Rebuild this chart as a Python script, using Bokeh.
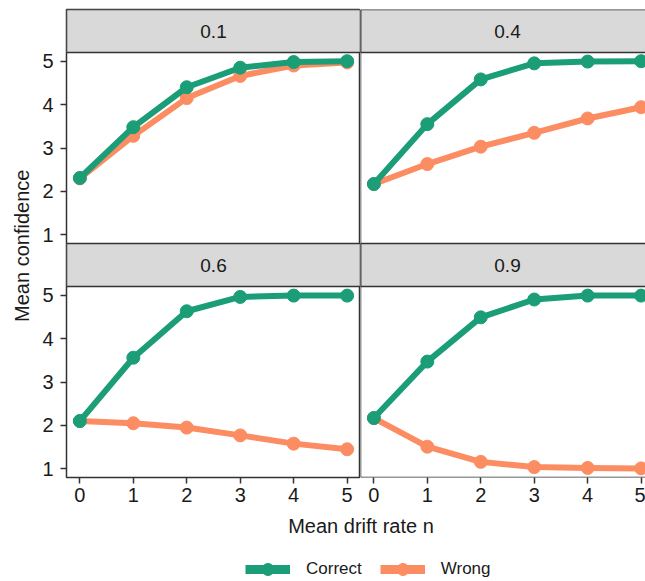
import math
from bokeh.plotting import figure
from bokeh.layouts import row, column
from bokeh.models import (FixedTicker, Legend, LegendItem, Range1d, Span,
                          LinearAxis, CustomJSTickFormatter)
from bokeh.embed import file_html
from bokeh.resources import INLINE
from bokeh.core.properties import value

# ---------------- data ----------------
drift = [0, 1, 2, 3, 4, 5]
facet_labels = ["0.1", "0.4", "0.6", "0.9"]
series_labels = ["Correct", "Wrong"]

correct_01 = [2.31, 3.48, 4.40, 4.85, 4.98, 5.00]
wrong_01 = [2.30, 3.28, 4.15, 4.66, 4.90, 4.97]
correct_04 = [2.17, 3.55, 4.58, 4.95, 4.99, 5.00]
wrong_04 = [2.17, 2.63, 3.03, 3.35, 3.68, 3.94]
correct_06 = [2.10, 3.56, 4.63, 4.96, 4.99, 4.99]
wrong_06 = [2.10, 2.05, 1.95, 1.77, 1.58, 1.45]
correct_09 = [2.17, 3.47, 4.49, 4.90, 4.99, 4.99]
wrong_09 = [2.17, 1.51, 1.16, 1.04, 1.02, 1.01]

y_ticks = [1, 2, 3, 4, 5]
x_ticks = [0, 1, 2, 3, 4, 5]
x_title = "Mean drift rate n"
y_title = "Mean confidence"

# ---------------- styles / geometry ----------------
GREEN = "#1B9E77"
ORANGE = "#FC8D62"
BORDER = "#333333"
STRIP_FILL = "#D9D9D9"
TEXT = "#1A1A1A"
FONT = value("Liberation Sans")

X_LO, X_HI = -0.25, 5.25
Y_LO, Y_HI = 0.8, 5.2
PANEL_W = 294
RIGHT_W = 285
DATA_H = 191
STRIP_H = 43
PX = DATA_H / (Y_HI - Y_LO)          # pixels per y unit
ROW_SHIFT = (STRIP_H + DATA_H) / PX  # one facet row, in y units
STRIP_U = STRIP_H / PX
X_HI_R = X_LO + RIGHT_W * (X_HI - X_LO) / PANEL_W
LEFT_BORDER = 34
BOTTOM_BORDER = 36
TOP_BORDER = 9
YLAB_W = 32
TOTAL_W = YLAB_W + LEFT_BORDER + PANEL_W + RIGHT_W
COL_H = TOP_BORDER + 2 * (STRIP_H + DATA_H) + BOTTOM_BORDER
FOOT_H = 581 - COL_H
NAN = float("nan")

# top facet row uses the default y range, bottom facet row an extra range
TOP_RANGE = (Y_LO - ROW_SHIFT, Y_HI + STRIP_U)
BOT_RANGE = (Y_LO, Y_HI + ROW_SHIFT + STRIP_U)


def draw_facet(p, label, correct, wrong, rname):
    p.quad(left=[X_LO], right=[X_HI], bottom=[Y_HI], top=[Y_HI + STRIP_U],
           fill_color=STRIP_FILL, line_color=BORDER, line_width=1.5, y_range_name=rname)
    p.text(x=[(X_LO + X_HI) / 2], y=[Y_HI + STRIP_U / 2], text=[label],
           text_align="center", text_baseline="middle", text_font=FONT,
           text_font_size="19px", text_color=TEXT, y_range_name=rname)
    p.line(drift, wrong, line_color=ORANGE, line_width=6, line_join="round", y_range_name=rname)
    p.scatter(drift, wrong, size=13, fill_color=ORANGE, line_color=ORANGE, y_range_name=rname)
    p.line(drift, correct, line_color=GREEN, line_width=6, line_join="round", y_range_name=rname)
    p.scatter(drift, correct, size=13, fill_color=GREEN, line_color=GREEN, y_range_name=rname)


def style_axis(ax):
    ax.axis_line_color = None
    ax.major_tick_in = 0
    ax.major_tick_out = 6
    ax.minor_tick_line_color = None
    ax.major_tick_line_color = BORDER
    ax.major_tick_line_width = 1.5
    ax.major_label_text_font = "Liberation Sans"
    ax.major_label_text_font_size = "20px"
    ax.major_label_text_color = TEXT


def make_column(top_label, top_c, top_w, bot_label, bot_c, bot_w, is_left):
    width = LEFT_BORDER + PANEL_W if is_left else RIGHT_W
    x_hi = X_HI if is_left else X_HI_R
    p = figure(width=width, height=COL_H, output_backend="svg", toolbar_location=None,
               x_range=Range1d(X_LO, x_hi), y_range=Range1d(*TOP_RANGE),
               x_axis_location="below", y_axis_location=None,
               min_border_left=LEFT_BORDER if is_left else 0, min_border_right=0,
               min_border_top=TOP_BORDER, min_border_bottom=BOTTOM_BORDER)
    p.extra_y_ranges = {"bottom": Range1d(*BOT_RANGE)}
    p.grid.visible = False
    p.background_fill_color = "white"
    p.border_fill_color = "white"
    if is_left:
        p.outline_line_color = BORDER
        p.outline_line_width = 1.5
        # one shared left axis: ticks of the top facet row and of the bottom row
        yax = LinearAxis(ticker=FixedTicker(ticks=y_ticks + [t - ROW_SHIFT for t in y_ticks]),
                         formatter=CustomJSTickFormatter(
                             args=dict(shift=ROW_SHIFT),
                             code="const v = tick < 0.5 ? tick + shift : tick; return Math.round(v).toString();"),
                         major_label_standoff=7)
        style_axis(yax)
        p.add_layout(yax, "left")
    else:
        p.outline_line_color = None
        p.add_layout(Span(location=X_LO, dimension="height", line_color=BORDER, line_width=1.5))
        p.add_layout(Span(location=Y_LO, dimension="width", line_color=BORDER, line_width=1.5,
                          y_range_name="bottom"))
    p.xaxis.ticker = FixedTicker(ticks=x_ticks)
    p.xaxis.major_label_standoff = 4
    for ax in p.xaxis:
        style_axis(ax)

    draw_facet(p, top_label, top_c, top_w, "default")
    draw_facet(p, bot_label, bot_c, bot_w, "bottom")
    return p


left_col = make_column(facet_labels[0], correct_01, wrong_01,
                       facet_labels[2], correct_06, wrong_06, True)
right_col = make_column(facet_labels[1], correct_04, wrong_04,
                        facet_labels[3], correct_09, wrong_09, False)


def blank(width, height):
    p = figure(width=width, height=height, output_backend="svg", toolbar_location=None,
               x_range=Range1d(0, width), y_range=Range1d(0, height),
               x_axis_location=None, y_axis_location=None,
               min_border=0, min_border_left=0, min_border_right=0,
               min_border_top=0, min_border_bottom=0)
    p.grid.visible = False
    p.outline_line_color = None
    return p


ylab = blank(YLAB_W, COL_H)
ylab.text(x=[21.5], y=[COL_H - 259], text=[y_title], angle=math.pi / 2,
          text_align="center", text_baseline="middle", text_font=FONT,
          text_font_size="20px", text_color=TEXT)

foot = blank(TOTAL_W, FOOT_H)
foot.text(x=[360.5], y=[FOOT_H - 12.5], text=[x_title],
          text_align="center", text_baseline="middle", text_font=FONT,
          text_font_size="20px", text_color=TEXT)
gl = foot.line(x=[NAN], y=[NAN], line_color=GREEN, line_width=9)
gs = foot.scatter(x=[NAN], y=[NAN], size=12, fill_color=GREEN, line_color=GREEN)
ol = foot.line(x=[NAN], y=[NAN], line_color=ORANGE, line_width=9)
os_ = foot.scatter(x=[NAN], y=[NAN], size=12, fill_color=ORANGE, line_color=ORANGE)
legend = Legend(items=[LegendItem(label=series_labels[0], renderers=[gl, gs]),
                       LegendItem(label=series_labels[1], renderers=[ol, os_])],
                orientation="horizontal", location=(245, -3),
                glyph_width=45, glyph_height=30, label_height=30, label_standoff=16,
                spacing=18, padding=0, margin=0, border_line_color=None,
                background_fill_alpha=0, label_text_font="Liberation Sans",
                label_text_font_size="17px", label_text_color=TEXT)
foot.add_layout(legend)

layout = column(row(ylab, left_col, right_col), foot)

open("out.html", "w").write(file_html(layout, INLINE, "Mean confidence"))
